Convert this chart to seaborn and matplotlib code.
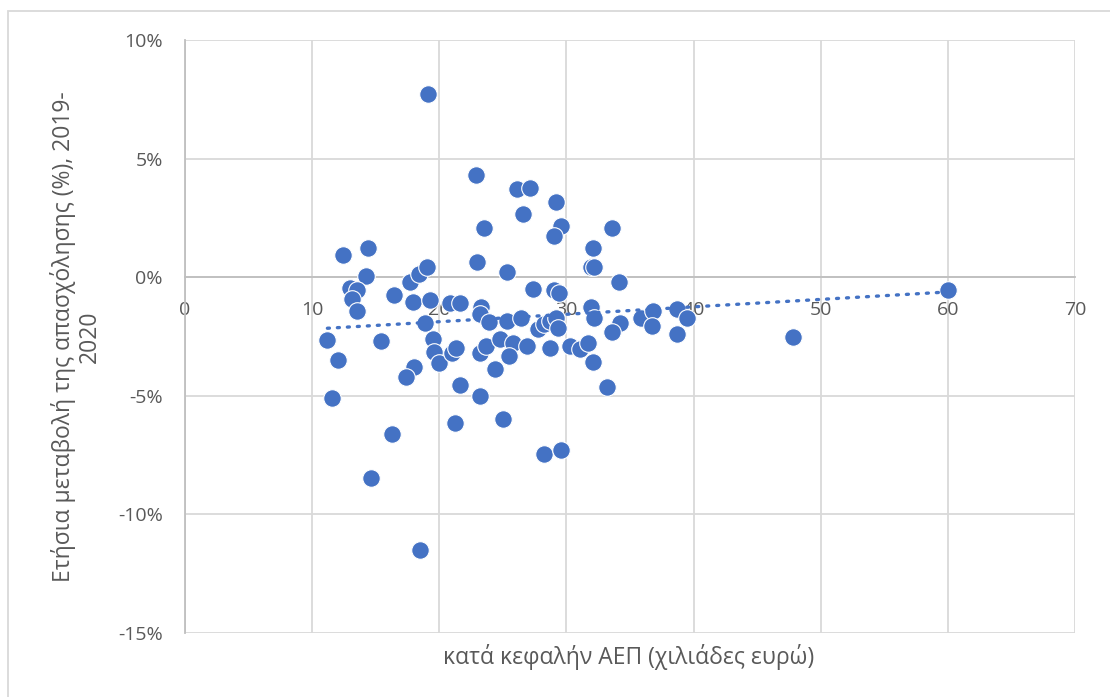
import matplotlib
matplotlib.use("Agg")
import matplotlib.pyplot as plt
import matplotlib.patches as mpatches
from matplotlib.ticker import FuncFormatter
import seaborn as sns
import pandas as pd

gdp_per_capita = [19.1, 22.9, 26.1, 27.1, 29.2, 26.6, 23.5, 29.6, 29.0, 33.6,
                  32.1, 31.9, 32.2, 23.0, 25.3, 34.1, 27.4, 29.0, 29.4, 12.4,
                  14.4, 14.2, 13.0, 13.5, 13.1, 13.5, 16.4, 17.7, 18.4, 19.0,
                  17.9, 19.3, 20.85, 21.6, 23.3, 23.2, 23.9, 18.9, 11.2, 15.4,
                  19.5, 19.6, 20.0, 21.0, 21.3, 23.2, 23.7, 24.8, 24.4, 12.0,
                  18.0, 17.4, 21.6, 23.2, 11.6, 25.3, 26.4, 27.75, 28.2, 28.7,
                  29.2, 29.3, 31.9, 32.2, 34.2, 33.6, 35.9, 36.8, 36.7, 38.7,
                  39.5, 38.7, 25.8, 26.9, 25.5, 28.7, 30.3, 31.1, 31.7, 32.1,
                  33.2, 25.0, 21.2, 28.2, 29.6, 16.3, 14.6, 18.5, 47.8, 60.0]
employment_change = [7.72, 4.32, 3.71, 3.78, 3.15, 2.66, 2.07, 2.15, 1.72, 2.07,
                     1.21, 0.45, 0.45, 0.66, 0.24, -0.22, -0.48, -0.54, -0.65, 0.94,
                     1.21, 0.06, -0.44, -0.55, -0.93, -1.42, -0.75, -0.20, 0.13, 0.44,
                     -1.04, -0.97, -1.07, -1.07, -1.25, -1.56, -1.88, -1.91, -2.64, -2.71,
                     -2.59, -3.14, -3.60, -3.18, -2.97, -3.18, -2.90, -2.62, -3.85, -3.50,
                     -3.78, -4.20, -4.56, -5.00, -5.10, -1.84, -1.74, -2.19, -1.98, -1.84,
                     -1.74, -2.15, -1.24, -1.70, -1.91, -2.33, -1.70, -1.42, -2.05, -1.35,
                     -1.70, -2.40, -2.76, -2.90, -3.32, -3.00, -2.92, -3.04, -2.76, -3.57,
                     -4.63, -5.99, -6.13, -7.47, -7.29, -6.60, -8.48, -11.52, -2.53, -0.55]

x_ticks = [0, 10, 20, 30, 40, 50, 60, 70]
y_ticks = [-15, -10, -5, 0, 5, 10]
x_label = "κατά κεφαλήν ΑΕΠ (χιλιάδες ευρώ)"
y_label = "Ετήσια μεταβολή της απασχόλησης (%), 2019-\n2020"

df = pd.DataFrame({"gdp": gdp_per_capita, "emp": employment_change})

sns.set_theme(style="white")
plt.rcParams["font.family"] = ["Open Sans", "DejaVu Sans"]

blue = "#4472C4"
grid_c = "#D9D9D9"
axis_c = "#BFBFBF"
text_c = "#595959"

fig = plt.figure(figsize=(11.10, 6.97), dpi=100)
ax = fig.add_axes([185 / 1110, 1 - 633 / 697, (1075 - 185) / 1110, (633 - 40) / 697])

sns.scatterplot(data=df, x="gdp", y="emp", ax=ax, color=blue, s=160,
                edgecolor="white", linewidth=0.8, zorder=3, legend=False)
sns.regplot(data=df, x="gdp", y="emp", ax=ax, scatter=False, ci=None,
            truncate=True,
            line_kws=dict(color=blue, linestyle=(0, (0.6, 2.4)), linewidth=2.4,
                          dash_capstyle="round", zorder=4))

ax.set_xlim(0, 70)
ax.set_ylim(-15, 10)
ax.set_xticks(x_ticks)
ax.set_yticks(y_ticks)
ax.yaxis.set_major_formatter(FuncFormatter(lambda v, p: f"{v:.0f}%"))

ax.grid(True, color=grid_c, linewidth=1.3, zorder=0)
ax.set_axisbelow(True)

for side in ["top", "right"]:
    ax.spines[side].set_visible(False)
ax.spines["bottom"].set_position(("data", 0))
ax.spines["bottom"].set_color(axis_c)
ax.spines["left"].set_color(axis_c)
ax.spines["bottom"].set_linewidth(1.3)
ax.spines["left"].set_linewidth(1.3)
ax.spines["bottom"].set_zorder(1)
ax.spines["left"].set_zorder(1)

ax.tick_params(axis="x", length=0, pad=17, labelsize=14, labelcolor=text_c)
ax.tick_params(axis="y", length=0, pad=16, labelsize=14, labelcolor=text_c)
ax.set_xlabel("")
ax.set_ylabel("")

fig.text(629 / 1110, 1 - 657 / 697, x_label, ha="center", va="center",
         fontsize=16.5, color=text_c)
fig.text(76 / 1110, 1 - 337 / 697, y_label, ha="center", va="center",
         rotation=90, fontsize=16.5, color=text_c, multialignment="center",
         linespacing=1.15)

# outer chart border (top and left visible)
border = mpatches.Rectangle((8 / 1110, -0.1), 1.2, 1 - 11 / 697 + 0.1,
                            transform=fig.transFigure, fill=False,
                            edgecolor=grid_c, linewidth=1.3)
fig.patches.append(border)

fig.savefig("out.png", dpi=100)
